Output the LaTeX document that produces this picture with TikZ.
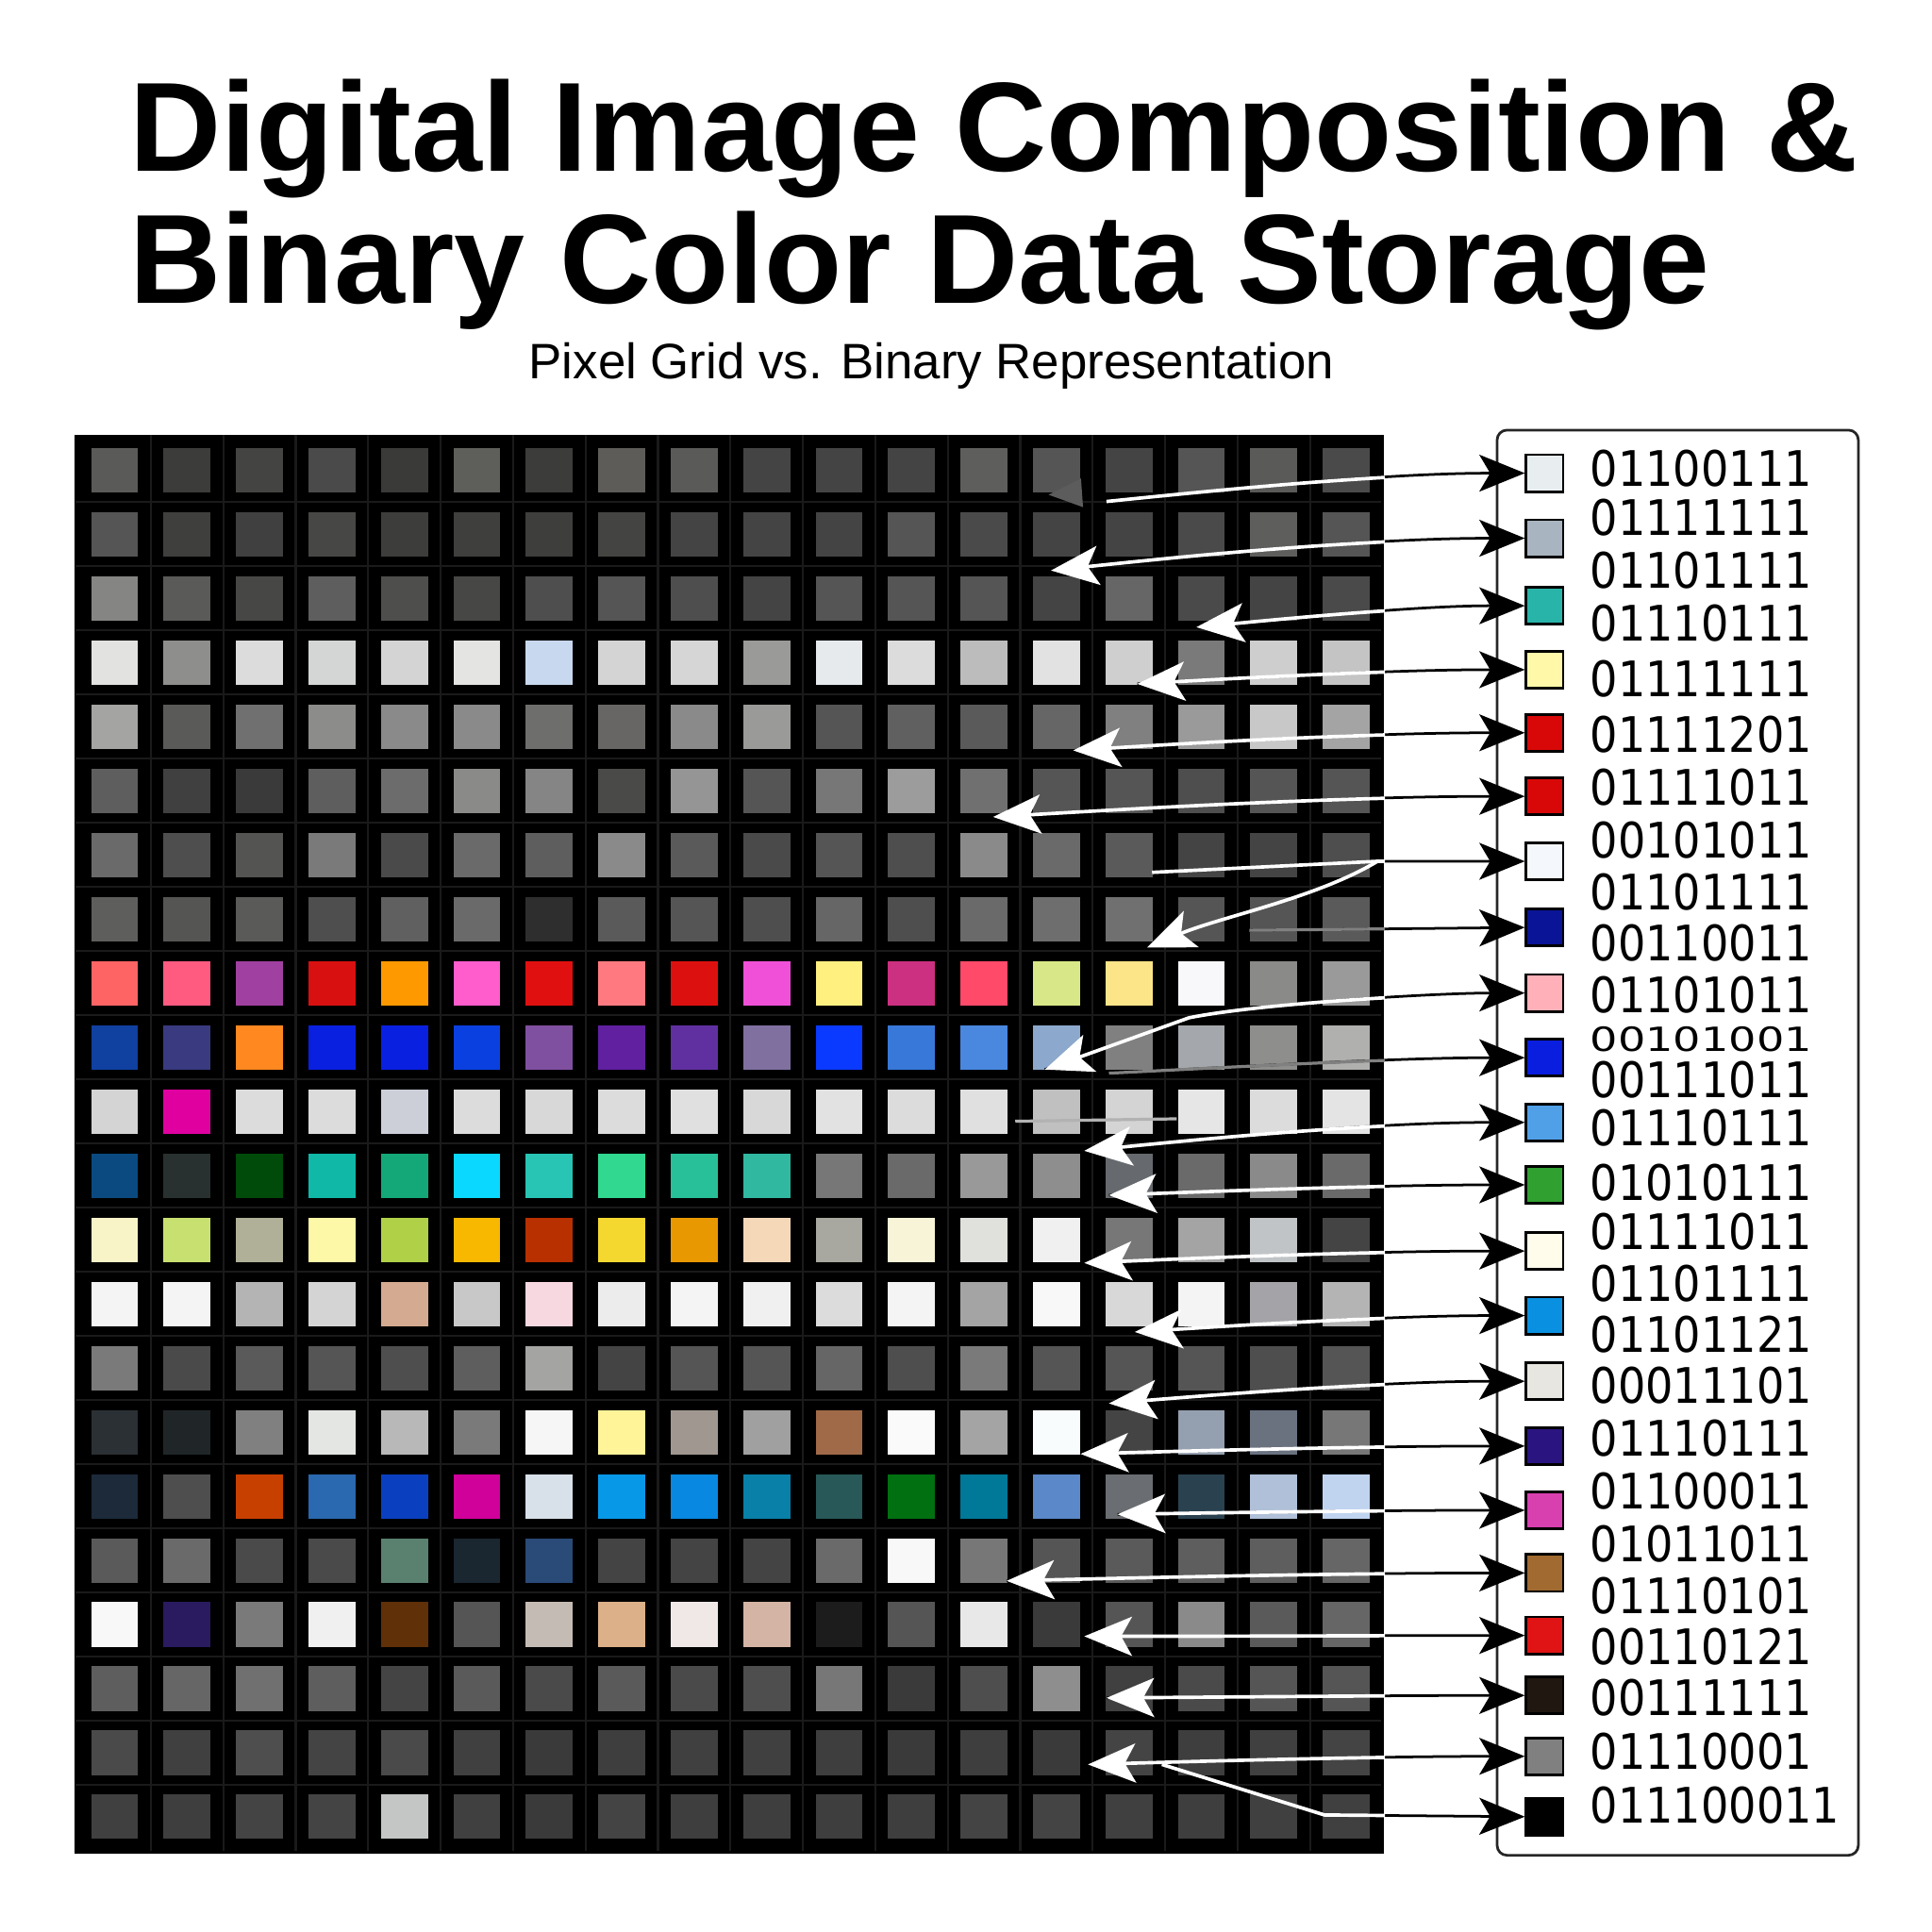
\documentclass[tikz,border=0pt]{standalone}
\usepackage{fontspec}
\setmainfont{Liberation Sans}
\newfontfamily\bitfont[FakeStretch=0.89]{DejaVu Sans}
\usepackage{xcolor}
\usepackage{graphicx}
\usetikzlibrary{arrows.meta}

\definecolor{seamgray}{HTML}{1A1A1A}
\definecolor{ghostgray}{HTML}{5C5C5C}

\tikzset{
  pixel/.style={rectangle, inner sep=0pt, minimum width=0.38cm, minimum height=0.36cm},
  swatch/.style={rectangle, draw=black, line width=0.6pt, inner sep=0pt, minimum size=0.3cm},
  bits/.style={anchor=base west, inner sep=0pt, font=\bitfont\fontsize{11.3}{12}\selectfont},
  seam/.style={seamgray, line width=0.5pt},
  link/.style={black, line width=0.6pt, arrows={-Stealth[length=10.5pt, width=8.5pt, inset=2.5pt]}},
  glow/.style={white, line width=0.8pt, arrows={Stealth[length=11pt, width=9pt, inset=2.5pt]-}},
  glow plain/.style={white, line width=0.8pt},
  dim plain/.style={gray, line width=0.7pt},
}

% black line to the swatch, white where it runs over the grid
\newcommand{\pixlink}[4][glow]{%
  \draw[link] (#2) #3 (#4);
  \begin{scope}
    \clip (grid.north west) rectangle (grid.south east);
    \draw[#1] (#2) #3 (#4);
  \end{scope}}

\begin{document}
\begin{tikzpicture}[x=0.01cm, y=-0.01cm]
    % Page
    \fill[white] (0,0) rectangle (1568,1568);
    \useasboundingbox (0,0) rectangle (1568,1568);

    % Title and subtitle
    \node[anchor=base west, inner sep=0pt, font=\bfseries\fontsize{29.3}{30}\selectfont] (title-1) at (104.5,139) {Digital Image Composition \&};
    \node[anchor=base west, inner sep=0pt, font=\bfseries\fontsize{29.3}{30}\selectfont] (title-2) at (104.5,246) {Binary Color Data Storage};
    \node[anchor=base, inner sep=0pt, font=\fontsize{11.5}{13}\selectfont] (subtitle) at (756,307) {Pixel Grid vs. Binary Representation};

    % Pixel grid
    \node[fill=black, inner sep=0pt, minimum width=10.62cm, minimum height=11.51cm, anchor=north west] (grid) at (60,352) {};
    \foreach \k in {1,...,17} \draw[seam] ({122.4+58.8*(\k-1)},353) -- ({122.4+58.8*(\k-1)},1502);
    \foreach \k in {1,...,21} \draw[seam] (61,{407.5+52.05*(\k-1)}) -- (1121,{407.5+52.05*(\k-1)});

    \foreach \row [count=\r] in {%
      {5A5A58,3C3C3A,444442,4A4A4A,3A3A38,5E5E5A,3C3C3A,5E5C58,5A5A58,444444,444444,444444,5E5E5C,555555,444444,555555,5A5A58,4A4A4A},%
      {555555,3F3F3D,404040,474745,3D3D3B,3F3F3D,3E3E3C,444442,444444,444444,444444,555555,4A4A4A,444444,444444,4A4A4A,5E5E5C,555555},%
      {858583,5A5A58,474745,5E5E5E,4E4E4C,474745,4E4E4E,555555,4E4E4E,444444,555555,555555,555555,444444,666666,4A4A4A,444444,4A4A4A},%
      {E2E2E0,8E8E8C,DCDCDC,D4D6D6,D4D4D4,E4E4E2,C8D8EE,D4D4D4,D6D6D6,9A9A98,E6EAEC,DCDCDC,BCBCBC,E2E2E2,CFCFCF,7A7A7A,CECECE,C4C4C4},%
      {A4A4A2,5A5A58,707070,8C8C8A,8A8A8A,8A8A8A,6E6E6C,686664,8A8A8A,9A9A98,555555,606060,5A5A5A,666666,808080,9A9A9A,C8C8C8,A4A4A4},%
      {5E5E5E,404040,3A3A3A,5E5E5E,6C6C6C,8A8A88,858585,4A4A48,959595,555555,777777,9C9C9C,707070,555555,555555,4E4E4E,555555,555555},%
      {6A6A6A,4E4E4E,545452,7A7A7A,4A4A4A,6A6A6A,5E5E5E,8A8A8A,5A5A5A,4A4A4A,555555,4E4E4E,8A8A8A,6A6A6A,5A5A5A,444444,444444,4E4E4E},%
      {5E5E5C,555553,5A5A58,4E4E4E,606060,6A6A6A,2E2E2E,5A5A5A,555555,4E4E4E,666666,4E4E4E,6A6A6A,6E6E6E,707070,555555,555555,5A5A5A},%
      {FF6464,FF5A80,A040A0,D81010,FF9900,FF5CCC,E01010,FF7A80,DD1010,F050D8,FFF080,CC3080,FF4A6A,D8E888,FCE488,F8F8FA,8A8A88,9A9A9A},%
      {1040A0,3A3A80,FF8820,0A20E0,0A20E0,0A40E0,8050A0,6020A0,6030A0,8070A0,0A3AFF,3878D8,4A88E0,8CA8CC,808080,A4A8AC,8E8E8C,B0B0AE},%
      {D4D4D4,E000A0,DCDCDC,DCDCDC,CCCFD8,DCDCDC,D8D8D8,DCDCDC,E0E0E0,D8D8D8,E2E2E2,DCDCDC,E0E0E0,C0C0C0,D4D4D4,E6E6E6,DCDCDC,E4E4E4},%
      {0A4A80,283030,004A0A,10B8A8,14A878,0AD8FF,28C4B4,30D890,28C098,30B8A0,777777,6A6A6A,999999,8E8E8E,666A6E,6A6A6A,8A8A8A,6A6A6A},%
      {F8F4C8,C8E070,B0B098,FDF7A8,B0D048,F8B800,B83000,F4D830,E89800,F4D8B8,A8A8A0,F8F4D8,E0E0DC,F0F0F0,777777,A4A4A4,C0C4C6,444444},%
      {F4F4F4,F4F4F4,B4B4B4,D4D4D4,D4AA90,C8C8C8,F8D8E0,ECECEC,F4F4F4,F0F0F0,DCDCDC,F4F4F4,A4A4A4,F8F8F8,D8D8D8,F4F4F4,A4A4A8,B4B4B4},%
      {7A7A7A,4A4A4A,5A5A5A,555555,4E4E4E,5E5E5E,A4A4A2,444444,555555,555555,666666,4E4E4E,7A7A7A,555555,555555,555555,4E4E4E,555555},%
      {2A3034,202628,808080,E4E6E4,B8B8B8,7A7A7A,F6F6F6,FFF498,A09890,A0A0A0,A06A48,FAFAFA,A4A4A4,F8FCFC,444444,94A0B0,6A7280,777777},%
      {1C2A3A,4E4E4E,C84000,2A68B0,0A40C0,D0009A,D8E0EA,0898E8,0888E0,0880A8,285858,007010,007898,5A88C8,6A6E72,2A4250,B0C0D8,C0D4F0},%
      {5A5A5A,6A6A6A,4A4A4A,4A4A4A,5A8070,1A2630,2A4A78,444444,444444,444444,6A6A6A,F8F8F8,777777,555555,5A5A5A,5E5E5E,5E5E5E,666666},%
      {F8F8F8,2A1A60,7A7A7A,F0F0F0,603008,555555,C4BCB4,DCB088,F0E8E6,D4B4A4,1C1C1C,555555,E8E8E8,3A3A3A,555555,8A8A8A,5A5A5A,666666},%
      {5E5E5E,666666,707070,5E5E5E,444444,5A5A5A,4A4A4A,5A5A5A,4A4A4A,4E4E4E,777777,3A3A3A,4E4E4E,8E8E8E,404040,4A4A4A,555555,555555},%
      {4A4A4A,404040,4E4E4E,444444,4A4A4A,404040,3A3A3A,3E3E3E,404040,404040,3E3E3E,3A3A3A,3E3E3E,3A3A3A,444444,3E3E3E,404040,444444},%
      {404040,3E3E3E,444444,444444,C4C6C6,404040,3A3A3A,444444,3E3E3E,3E3E3E,3E3E3E,3E3E3E,444444,444444,404040,3E3E3E,404040,404040}%
    } {
      \foreach \hex [count=\c] in \row {
        \definecolor{pix}{HTML}{\hex}
        \node[pixel, fill=pix] (p-\r-\c) at ({93+58.8*(\c-1)},{381.5+52.05*(\r-1)}) {};
      }
    }

    % Legend box
    \node[draw=black!85, line width=0.6pt, rounded corners=0.08cm, fill=white, inner sep=0pt, minimum width=2.93cm, minimum height=11.56cm, anchor=north west] (legend) at (1214,348) {};

    % Colour swatches
    \foreach \y/\hex [count=\k] in {384/E8EEF0,436.8/A8B4C0,491.6/28B4A8,543.5/FFF8A8,594.7/D80808,646.3/D80808,699/F4F8FC,752.7/0A1496,805.9/FFB0B8,858.4/0A1EE0,910.9/50A0E8,961.6/30A030,1015.3/FFFCEC,1067.7/0A90E0,1121/E8E6E0,1173.6/2A1480,1225.7/D840B0,1276.6/A06A30,1327.3/E01414,1376/201810,1425.4/808080,1474.4/000000} {
      \definecolor{swc}{HTML}{\hex}
      \node[swatch, fill=swc] (sw-\k) at (1253.6,\y) {};
    }

    % Binary codes
    \foreach \y/\code [count=\k] in {394.3/01100111,434.2/01111111,477.1/01101111,520.6/01110111,565.7/01111111,610.8/01111201,653.7/01111011,696.2/00101011,738.1/01101111,780/00110011,821.9/01101011,890.5/00111011,930/01110111,974.3/01010111,1014.2/01111011,1055.9/01101111,1097.6/01101121,1138.8/00011101,1181.8/01110111,1224.8/01100011,1267.8/01011011,1309.4/01110101,1351.1/00110121,1392.3/00111111,1436.2/01110001,1479.2/011100011} {
      \node[bits] (code-\k) at (1290,\y) {\code};
    }
    % squeezed line between two codes
    \node[bits] (code-squeezed) at (1290,853) {\scalebox{1}[0.68]{00101001}};

    % Ends of the links inside the grid
    \coordinate (tip-1) at (898,407);
    \coordinate (ghost-1) at (851,401.5);
    \coordinate (tip-2) at (853,463);
    \coordinate (tip-3) at (971,509);
    \coordinate (tip-4) at (923,555);
    \coordinate (tip-5) at (871,609);
    \coordinate (tip-6) at (806,663);
    \coordinate (tip-7) at (935,708);
    \coordinate (fork-7) at (1118,699);
    \coordinate (tip-7b) at (931,769);
    \coordinate (tip-8) at (1014,755);
    \coordinate (tip-9) at (848,868);
    \coordinate (bend-9) at (965,826);
    \coordinate (tip-10) at (900,871);
    \coordinate (stub-a) at (824,910);
    \coordinate (stub-b) at (955,908);
    \coordinate (tip-11) at (880,934);
    \coordinate (tip-12) at (900,970);
    \coordinate (tip-13) at (880,1025);
    \coordinate (tip-14) at (921,1081);
    \coordinate (tip-15) at (900,1139);
    \coordinate (tip-16) at (877,1180);
    \coordinate (tip-17) at (907,1229);
    \coordinate (tip-18) at (817,1283);
    \coordinate (tip-19) at (880,1328);
    \coordinate (tip-20) at (898,1378);
    \coordinate (tip-21) at (883,1432);
    \coordinate (tip-22) at (943,1432);
    \coordinate (bend-22) at (1075,1473);

    % Links
    \pixlink[glow plain]{tip-1}{.. controls +(136,-14) and +(-100,0) ..}{sw-1.west}
    \fill[ghostgray] (ghost-1) -- ++(26.3,-13.2) -- ++(1.7,23.3) -- cycle;
    \pixlink{tip-2}{.. controls +(150,-16) and +(-115,0) ..}{sw-2.west}
    \pixlink{tip-3}{.. controls +(105,-10) and +(-80,0) ..}{sw-3.west}
    \pixlink{tip-4}{.. controls +(125,-7) and +(-95,0) ..}{sw-4.west}
    \pixlink{tip-5}{.. controls +(145,-9) and +(-110,0) ..}{sw-5.west}
    \pixlink{tip-6}{.. controls +(170,-10) and +(-130,0) ..}{sw-6.west}
    \pixlink[glow plain]{tip-7}{-- (fork-7) --}{sw-7.west}
    \draw[glow] (tip-7b) .. controls +(60,-25) and +(-50,30) .. (fork-7);
    \pixlink[dim plain]{tip-8}{--}{sw-8.west}
    \pixlink{tip-9}{-- (bend-9) .. controls +(60,-12) and +(-70,0) ..}{sw-9.west}
    \pixlink[dim plain]{tip-10}{.. controls +(120,-6) and +(-100,0) ..}{sw-10.west}
    \draw[gray!60, line width=0.7pt] (stub-a) -- (stub-b);
    \pixlink{tip-11}{.. controls +(140,-14) and +(-110,0) ..}{sw-11.west}
    \pixlink{tip-12}{.. controls +(135,-5) and +(-100,0) ..}{sw-12.west}
    \pixlink{tip-13}{.. controls +(140,-6) and +(-110,0) ..}{sw-13.west}
    \pixlink{tip-14}{.. controls +(125,-8) and +(-95,0) ..}{sw-14.west}
    \pixlink{tip-15}{.. controls +(135,-11) and +(-100,0) ..}{sw-15.west}
    \pixlink{tip-16}{.. controls +(145,-4) and +(-110,0) ..}{sw-16.west}
    \pixlink{tip-17}{.. controls +(130,-2) and +(-100,0) ..}{sw-17.west}
    \pixlink{tip-18}{.. controls +(170,-4) and +(-125,0) ..}{sw-18.west}
    \pixlink{tip-19}{.. controls +(140,0) and +(-110,0) ..}{sw-19.west}
    \pixlink{tip-20}{.. controls +(135,-1) and +(-100,0) ..}{sw-20.west}
    \pixlink{tip-21}{.. controls +(140,-4) and +(-105,0) ..}{sw-21.west}
    \pixlink[glow plain]{tip-22}{-- (bend-22) --}{sw-22.west}
\end{tikzpicture}
\end{document}
